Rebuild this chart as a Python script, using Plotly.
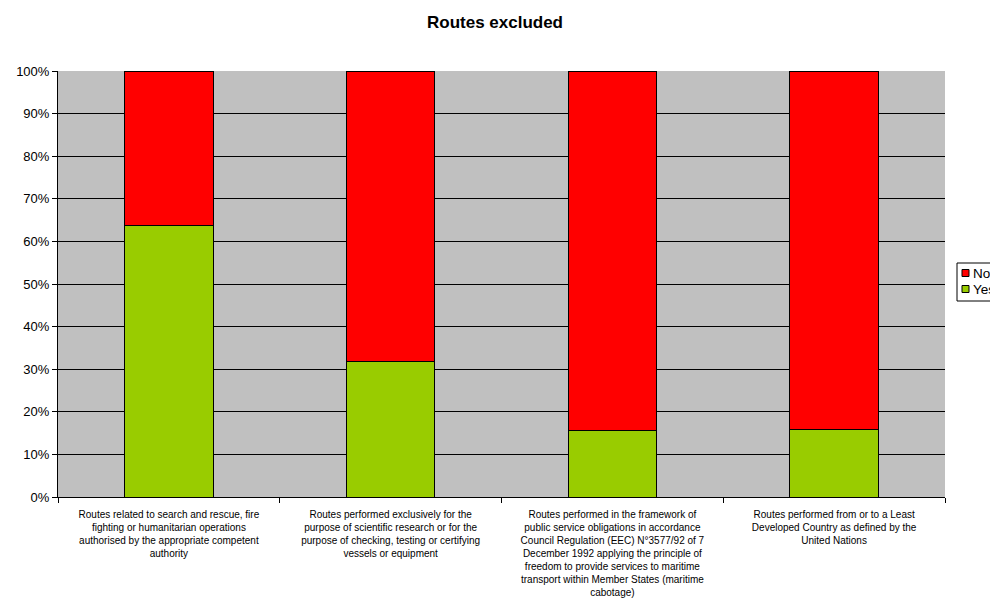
import plotly.graph_objects as go

categories = [
    "Routes related to search and rescue, fire<br>fighting or humanitarian operations<br>authorised by the appropriate competent<br>authority",
    "Routes performed exclusively for the<br>purpose of scientific research or for the<br>purpose of checking, testing or certifying<br>vessels or equipment",
    "Routes performed in the framework of<br>public service obligations in accordance<br>Council Regulation (EEC) N°3577/92 of 7<br>December 1992 applying the principle of<br>freedom to provide services to maritime<br>transport within Member States (maritime<br>cabotage)",
    "Routes performed from or to a Least<br>Developed Country as defined by the<br>United Nations",
]
yes_values = [63.8, 31.7, 15.5, 15.8]
no_values = [36.2, 68.3, 84.5, 84.2]
series_names = ["No", "Yes"]
series_colors = ["#FF0000", "#99CC00"]

W, H = 990, 604
L, R, T, B = 58, 45, 71, 107


def px(x):
    return (x - L) / (W - L - R)


def py(y):
    return 1 - (y - T) / (H - T - B)


fig = go.Figure()
fig.add_trace(go.Bar(x=categories, y=yes_values, name="Yes", showlegend=False,
                     marker=dict(color="#99CC00", line=dict(color="#000000", width=1))))
fig.add_trace(go.Bar(x=categories, y=no_values, name="No", showlegend=False,
                     marker=dict(color="#FF0000", line=dict(color="#000000", width=1))))

shapes = [dict(type="rect", xref="paper", yref="paper", x0=px(957), x1=px(1005),
               y0=py(263), y1=py(301), line=dict(color="black", width=1),
               fillcolor="white", layer="above")]
annotations = []
for i, (nm, col) in enumerate(zip(series_names, series_colors)):
    yc = 273 + i * 16
    shapes.append(dict(type="rect", xref="paper", yref="paper", x0=px(962), x1=px(969),
                       y0=py(yc - 3.5), y1=py(yc + 3.5), line=dict(color="black", width=1),
                       fillcolor=col, layer="above"))
    annotations.append(dict(text=nm, xref="paper", yref="paper", x=px(971), y=py(yc),
                            xanchor="left", yanchor="middle", showarrow=False,
                            font=dict(size=13.5, color="black")))

fig.update_layout(
    barmode="stack",
    bargap=0.6,
    width=W, height=H,
    margin=dict(l=L, r=R, t=T, b=B, autoexpand=False),
    paper_bgcolor="white",
    plot_bgcolor="#C0C0C0",
    font=dict(family="Liberation Sans, Arial, sans-serif", color="black", size=12),
    title=dict(text="<b>Routes excluded</b>", x=495 / W, xanchor="center", y=1 - 22 / H,
               yanchor="middle", font=dict(size=17)),
    shapes=shapes,
    annotations=annotations,
    showlegend=False,
)
fig.update_yaxes(range=[0, 100], tickvals=[0, 10, 20, 30, 40, 50, 60, 70, 80, 90, 100],
                 ticktext=["0%", "10%", "20%", "30%", "40%", "50%", "60%", "70%", "80%", "90%", "100%"],
                 showgrid=True, gridcolor="black", gridwidth=1,
                 showline=True, linecolor="black", linewidth=1,
                 ticks="outside", ticklen=5, tickcolor="black", zeroline=False,
                 tickfont=dict(size=13), automargin=False)
fig.update_xaxes(showline=True, linecolor="black", linewidth=1,
                 ticks="outside", ticklen=5, tickcolor="black", tickson="boundaries",
                 tickfont=dict(size=10), tickangle=0, automargin=False,
                 ticklabelstandoff=8)

fig.write_html("out.html", config={"displayModeBar": False},
               post_script="document.body.style.margin='0px';document.body.style.overflow='hidden';")
